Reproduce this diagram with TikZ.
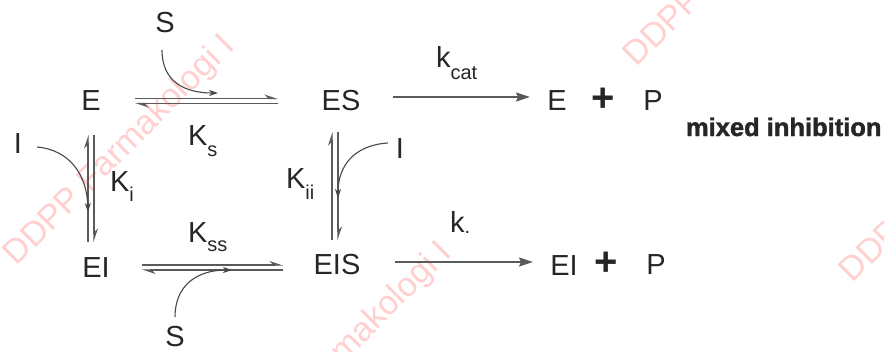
\documentclass[tikz,border=0pt]{standalone}
\usepackage{fontspec}
\setmainfont{Liberation Sans}
\newfontfamily\heavyfont[BoldFeatures={FakeBold=1.6}]{Liberation Sans}
\usetikzlibrary{arrows.meta,calc}
\definecolor{txt}{HTML}{262626}
\definecolor{ln}{HTML}{5A5A5A}
\definecolor{wm}{RGB}{255,208,208}
\newcommand{\lsub}[2]{\raisebox{#1}{\fontsize{20}{20}\selectfont #2}}
\begin{document}
\begin{tikzpicture}[x=1pt,y=-1pt,
  every node/.style={inner sep=0pt,outer sep=0pt},
  sp/.style={font=\fontsize{29}{29}\selectfont,text=txt},
  plus/.style={font=\fontsize{40}{40}\selectfont\bfseries,text=txt},
  lab/.style={font=\fontsize{29}{29}\selectfont,text=txt,anchor=base west},
  wmark/.style={font=\fontsize{34}{34}\selectfont,text=wm,rotate=45},
  eqln/.style={draw=ln,line width=1.1pt,-{Stealth[harpoon,length=12pt,width=8pt]}},
  prod/.style={draw=ln,line width=1.5pt,-{Stealth[length=14pt,width=9pt,inset=2pt]}},
  curv/.style={draw=txt!85,line width=1.1pt,-{Stealth[length=9pt,width=6pt]}}]
\useasboundingbox (0,0) rectangle (884,351);
\fill[white] (0,0) rectangle (884,351);
% watermark
\node[wmark] (w1) at (120,151) {DDPP Farmakologi I};
\node[wmark] (w2) at (337,358) {DDPP Farmakologi I};
\node[wmark] (w3) at (740,-48) {DDPP Farmakologi I};
\node[wmark] (w4) at (956,168) {DDPP Farmakologi I};
% species
\node[sp] (S1) at (165,23) {S};
\node[sp] (E) at (91,101) {E};
\node[sp] (ES) at (341,101) {ES};
\node[sp] (Ep) at (557,101) {E};
\node[plus] (plus1) at (603,100) {+};
\node[sp] (P1) at (653,101) {P};
\node[sp] (I1) at (18,144) {I};
\node[sp] (I2) at (400,149) {I};
\node[sp] (EI) at (96,268) {EI};
\node[sp] (EIS) at (337,265) {EIS};
\node[sp] (EIp) at (564,266) {EI};
\node[plus] (plus2) at (606,264) {+};
\node[sp] (P2) at (656,265) {P};
\node[sp] (S2) at (175,337) {S};
% labels
\node[lab] (kcat) at (436,67) {k\lsub{-12pt}{cat}};
\node[lab] (Ks) at (188,145) {K\lsub{-11pt}{s}};
\node[lab] (Ki) at (110,191) {K\lsub{-10pt}{i}};
\node[lab] (Kii) at (286,188) {K\lsub{-11pt}{ii}};
\node[lab] (Kss) at (188,242) {K\lsub{-9pt}{ss}};
\node[lab] (kdot) at (450,232) {k\lsub{-1pt}{.}};
\node[font=\fontsize{25.5}{25.5}\selectfont\heavyfont\bfseries,text=txt,anchor=base west] (mi) at (686,136) {mixed inhibition};
% equilibria
\draw[eqln] ($(E)+(44,-2.5)$) -- ($(ES)+(-63,-2.5)$);
\draw[eqln] ($(ES)+(-63,2.5)$) -- ($(E)+(44,2.5)$);
\draw[eqln] ($(E |- EI)+(-3,-26)$) -- ($(E)+(-3,34)$);
\draw[eqln] ($(E)+(3,34)$) -- ($(E |- EI)+(3,-26)$);
\draw[eqln] ($(ES |- EIS)+(-9,-25)$) -- ($(ES)+(-9,31)$);
\draw[eqln] ($(ES)+(-3,31)$) -- ($(ES |- EIS)+(-3,-25)$);
\draw[eqln] ($(EI)+(46,-3)$) -- ($(EI -| EIS)+(-54,-3)$);
\draw[eqln] ($(EI -| EIS)+(-54,2)$) -- ($(EI)+(46,2)$);
% product arrows
\draw[prod] ($(ES)+(52,-4)$) -- ($(ES -| Ep)+(-27,-4)$);
\draw[prod] ($(EIS)+(58,-3)$) -- ($(EIS -| EIp)+(-31,-3)$);
% curved arrows
\draw[curv] ($(S1)+(-3,27)$) .. controls ($(S1)+(-3,59)$) and ($(S1)+(20,70)$) .. ($(E)+(127,-8)$);
\draw[curv] ($(I1)+(19,3)$) .. controls ($(I1)+(52,6)$) and ($(I1)+(69,31)$) .. ($(E)+(-3,111)$);
\draw[curv] ($(I2)+(-12,-6)$) .. controls ($(I2)+(-45,-4)$) and ($(I2)+(-62,16)$) .. ($(ES)+(-3,97)$);
\draw[curv] ($(S2)+(0,-20)$) .. controls ($(S2)+(0,-50)$) and ($(S2)+(20,-67)$) .. ($(EI)+(136,2)$);
\end{tikzpicture}
\end{document}
